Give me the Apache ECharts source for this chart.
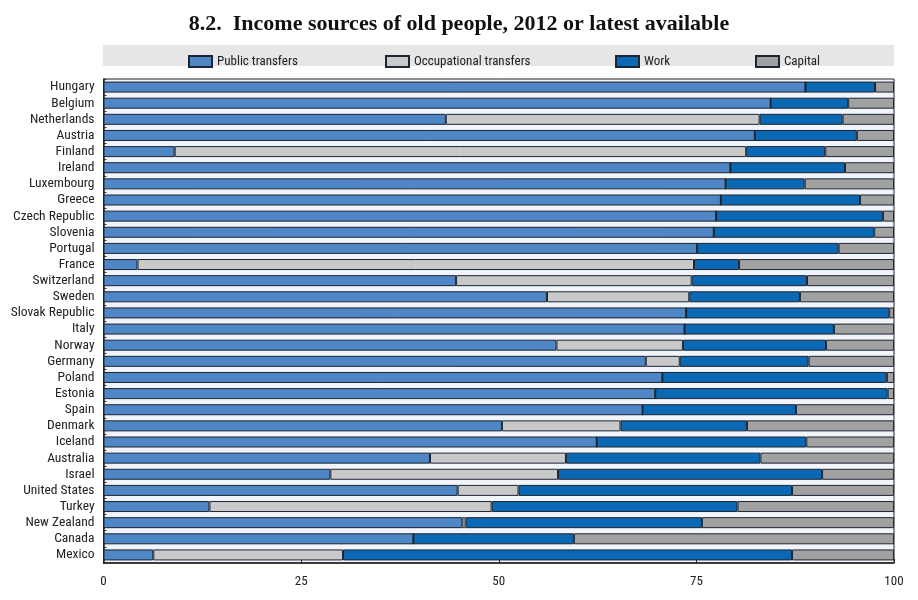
<!DOCTYPE html>
<html><head><meta charset="utf-8">
<script src="https://cdn.jsdelivr.net/npm/echarts@6/dist/echarts.min.js"></script>
<style>html,body{margin:0;padding:0;background:#fff}#c{width:918px;height:600px}</style>
</head><body><div id="c"></div>
<script>
const categories = ["Hungary","Belgium","Netherlands","Austria","Finland","Ireland","Luxembourg","Greece","Czech Republic","Slovenia","Portugal","France","Switzerland","Sweden","Slovak Republic","Italy","Norway","Germany","Poland","Estonia","Spain","Denmark","Iceland","Australia","Israel","United States","Turkey","New Zealand","Canada","Mexico"];
const publicTransfers = [88.8,84.4,43.3,82.4,9.0,79.3,78.7,78.1,77.5,77.2,75.1,4.3,44.6,56.1,73.7,73.5,57.3,68.6,70.7,69.8,68.2,50.4,62.4,41.3,28.7,44.8,13.4,45.4,39.2,6.3];
const occupationalTransfers = [0,0,39.7,0,72.3,0,0,0,0,0,0,70.4,29.8,18.0,0,0,16.0,4.3,0,0,0,15.0,0,17.2,28.8,7.7,35.7,0.4,0,24.0];
const work = [8.8,9.8,10.5,12.9,10.0,14.5,10.0,17.6,21.1,20.3,17.9,5.7,14.6,14.0,25.7,18.9,18.1,16.3,28.4,29.4,19.4,16.0,26.5,24.6,33.4,34.6,31.1,29.9,20.3,56.8];
const capital = [2.4,5.8,6.5,4.7,8.7,6.2,11.3,4.3,1.4,2.5,7.0,19.6,11.0,11.9,0.6,7.6,8.6,10.8,0.9,0.8,12.4,18.6,11.1,16.9,9.1,12.9,19.8,24.3,40.5,12.9];
const xTicks = [0,25,50,75,100];

const labelFont = "'Liberation Sans Narrow','Roboto Condensed','Liberation Sans',sans-serif";
const names = ["Public transfers","Occupational transfers","Work","Capital"];
const colors = ["#4f86c6","#c9c9c9","#0a68b4","#a1a1a1"];
const datas = [publicTransfers, occupationalTransfers, work, capital];
const legendLeft = [183, 380, 610, 750];

const chart = echarts.init(document.getElementById('c'), null, {renderer:'canvas'});
chart.setOption({
  animation: false,
  backgroundColor: '#ffffff',
  title: {
    text: '8.2.  Income sources of old people, 2012 or latest available',
    left: 'center', top: 8,
    textStyle: {fontFamily: "'Liberation Serif','DejaVu Serif',serif", fontWeight: 'bold', fontSize: 22, color: '#111'}
  },
  graphic: [{type:'rect', shape:{x:103, y:45, width:791, height:21}, style:{fill:'#e6e6e6'}, z:-1}],
  legend: names.map((n,i)=>({
    data:[n], left: legendLeft[i], top: 50, itemWidth: 23, itemHeight: 11, itemGap: 10,
    icon: 'rect',
    textStyle: {fontFamily: labelFont, fontSize: 13, color: '#222'}
  })),
  grid: {left: 103.5, right: 24, top: 79, bottom: 37, show: true, borderColor: '#222', borderWidth: 1, backgroundColor: '#f1f4f9'},
  xAxis: {
    type: 'value', min: 0, max: 100, interval: 25,
    axisLine: {show: true, lineStyle: {color: '#222', width: 1.5}},
    axisTick: {show: true, inside: true, length: 4, lineStyle: {color: '#222'}},
    splitLine: {show: false},
    axisLabel: {fontFamily: labelFont, fontSize: 13, color: '#222', margin: 12,
      formatter: v => xTicks.includes(v) ? String(v) : ''}
  },
  yAxis: {
    type: 'category', data: categories, inverse: true,
    axisLine: {show: true, lineStyle: {color: '#222', width: 1.5}},
    axisTick: {show: true, inside: true, length: 3, interval: 0, lineStyle: {color: '#333'}},
    axisLabel: {interval: 0, fontFamily: labelFont, fontSize: 13.5, color: '#222', margin: 9}
  },
  series: names.map((n,i)=>({
    name: n, type: 'bar', stack: 'total', data: datas[i], barWidth: 11,
    itemStyle: {color: colors[i], borderColor: '#1b2533', borderWidth: 1}
  }))
});
</script></body></html>
